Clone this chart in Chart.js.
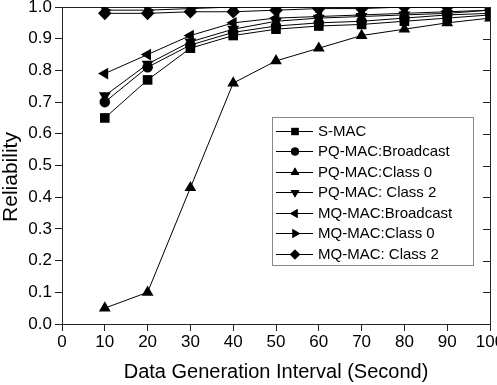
<!DOCTYPE html>
<html>
<head>
<meta charset="utf-8">
<script src="https://cdn.jsdelivr.net/npm/chart.js@4/dist/chart.umd.min.js"></script>
<style>
html,body{margin:0;padding:0;background:#fff;}
#wrap{position:relative;width:497px;height:385px;}
</style>
</head>
<body>
<div id="wrap"><canvas id="c" width="497" height="385"></canvas></div>
<script>
const intervals = [10, 20, 30, 40, 50, 60, 70, 80, 90, 100];
const seriesNames = ["S-MAC", "PQ-MAC:Broadcast", "PQ-MAC:Class 0", "PQ-MAC: Class 2", "MQ-MAC:Broadcast", "MQ-MAC:Class 0", "MQ-MAC: Class 2"];
const sMac        = [0.65, 0.77, 0.87, 0.91, 0.93, 0.94, 0.945, 0.955, 0.965, 0.975];
const pqBroadcast = [0.70, 0.81, 0.88, 0.92, 0.94, 0.95, 0.955, 0.965, 0.975, 0.98];
const pqClass0    = [0.05, 0.10, 0.43, 0.76, 0.83, 0.87, 0.91, 0.93, 0.95, 0.965];
const pqClass2    = [0.72, 0.82, 0.89, 0.93, 0.955, 0.965, 0.97, 0.975, 0.98, 0.99];
const mqBroadcast = [0.79, 0.85, 0.91, 0.95, 0.965, 0.97, 0.975, 0.98, 0.985, 0.99];
const mqClass0    = [0.99, 0.99, 0.995, 1.0, 1.0, 1.0, 1.0, 1.0, 1.0, 1.0];
const mqClass2    = [0.98, 0.98, 0.985, 0.985, 0.99, 0.995, 0.995, 1.0, 1.0, 1.0];
const xTicks = [0, 10, 20, 30, 40, 50, 60, 70, 80, 90, 100];
const yTicks = [0.0, 0.1, 0.2, 0.3, 0.4, 0.5, 0.6, 0.7, 0.8, 0.9, 1.0];
const yTitle = 'Reliability';
const xTitle = 'Data Generation Interval (Second)';

const allValues = [sMac, pqBroadcast, pqClass0, pqClass2, mqBroadcast, mqClass0, mqClass2];
const markers = [
  {style: 'rect', rot: 0, r: 6.8},
  {style: 'circle', rot: 0, r: 5.3},
  {style: 'triangle', rot: 0, r: 6.8},
  {style: 'triangle', rot: 180, r: 6.8},
  {style: 'triangle', rot: 270, r: 6.8},
  {style: 'triangle', rot: 90, r: 6.8},
  {style: 'rectRot', rot: 0, r: 6.8}
];
const FONT = "'Liberation Sans', Arial, sans-serif";

const datasets = allValues.map((vals, i) => ({
  label: seriesNames[i],
  data: intervals.map((x, j) => ({x: x, y: vals[j]})),
  borderColor: '#000',
  backgroundColor: '#000',
  borderWidth: 1,
  pointStyle: markers[i].style,
  rotation: markers[i].rot,
  pointRadius: markers[i].r,
  pointBorderWidth: 0,
  pointBackgroundColor: '#000',
  tension: 0,
  clip: 0
}));

const frameTicks = {
  id: 'frameTicks',
  afterDraw(chart) {
    const ctx = chart.ctx;
    const ys = chart.scales.y;
    const a = chart.chartArea;
    ctx.save();
    ctx.strokeStyle = '#222';
    ctx.lineWidth = 1;
    ctx.beginPath();
    yTicks.forEach(v => {
      const py = Math.round(ys.getPixelForValue(v)) + 0.5;
      ctx.moveTo(a.right, py);
      ctx.lineTo(a.right - 7, py);
    });
    ctx.stroke();
    // y axis title
    ctx.fillStyle = '#000';
    ctx.font = '21px ' + FONT;
    ctx.textAlign = 'center';
    ctx.textBaseline = 'middle';
    ctx.translate(11, 177);
    ctx.rotate(-Math.PI / 2);
    ctx.fillText(yTitle, 0, 0);
    ctx.restore();
  }
};

const boxLegend = {
  id: 'boxLegend',
  afterDraw(chart) {
    const ctx = chart.ctx;
    const left = 272, top = 117, right = 473, bottom = 265;
    ctx.save();
    ctx.fillStyle = '#fff';
    ctx.fillRect(left, top, right - left, bottom - top);
    ctx.strokeStyle = '#888';
    ctx.lineWidth = 1;
    ctx.strokeRect(left + 0.5, top + 0.5, right - left, bottom - top);
    ctx.font = '15px ' + FONT;
    ctx.textBaseline = 'middle';
    ctx.textAlign = 'left';
    chart.data.datasets.forEach((ds, i) => {
      const y = 130.5 + i * 20.5;
      ctx.strokeStyle = '#000';
      ctx.beginPath();
      ctx.moveTo(276, Math.round(y) + 0.5);
      ctx.lineTo(313, Math.round(y) + 0.5);
      ctx.stroke();
      ctx.fillStyle = '#000';
      Chart.helpers.drawPoint(ctx, {pointStyle: ds.pointStyle, rotation: ds.rotation, radius: ds.pointRadius * 0.75, borderWidth: 0}, 295, Math.round(y) + 0.5);
      ctx.fill();
      ctx.fillStyle = '#000';
      ctx.fillText(ds.label, 318, y + 1);
    });
    ctx.restore();
  }
};

new Chart(document.getElementById('c'), {
  type: 'line',
  data: {datasets: datasets},
  plugins: [frameTicks, boxLegend],
  options: {
    responsive: false,
    animation: false,
    events: [],
    layout: {padding: 0},
    plugins: {legend: {display: false}, tooltip: {enabled: false}},
    scales: {
      x: {
        type: 'linear', position: 'bottom', min: 0, max: 100,
        afterBuildTicks: s => { s.ticks = xTicks.map(v => ({value: v})); },
        afterFit: s => { s.height = 61; s.paddingLeft = 0; s.paddingRight = 0; },
        border: {display: true, color: '#222', width: 1},
        grid: {display: true, drawOnChartArea: false, drawTicks: true, tickLength: 7, color: '#222'},
        ticks: {color: '#000', font: {family: FONT, size: 17}, padding: 1, maxRotation: 0, autoSkip: false},
        title: {display: true, text: xTitle, color: '#000', font: {family: FONT, size: 20}, padding: {top: 0, bottom: 1}}
      },
      x2: {
        type: 'linear', position: 'top', min: 0, max: 100,
        afterFit: s => { s.height = 7; s.paddingLeft = 0; s.paddingRight = 0; },
        border: {display: true, color: '#222', width: 1},
        grid: {display: false},
        ticks: {display: false}
      },
      y: {
        type: 'linear', position: 'left', min: 0, max: 1,
        afterBuildTicks: s => { s.ticks = yTicks.map(v => ({value: v})); },
        afterFit: s => { s.width = 62; s.paddingTop = 0; s.paddingBottom = 0; },
        border: {display: true, color: '#222', width: 1},
        grid: {display: true, drawOnChartArea: false, drawTicks: true, tickLength: 7, color: '#222'},
        ticks: {color: '#000', font: {family: FONT, size: 17}, padding: 3, callback: v => v.toFixed(1), autoSkip: false},
        title: {display: false}
      },
      y2: {
        type: 'linear', position: 'right', min: 0, max: 1,
        afterFit: s => { s.width = 7; s.paddingTop = 0; s.paddingBottom = 0; },
        border: {display: true, color: '#222', width: 1},
        grid: {display: false},
        ticks: {display: false}
      }
    }
  }
});
</script>
</body>
</html>
